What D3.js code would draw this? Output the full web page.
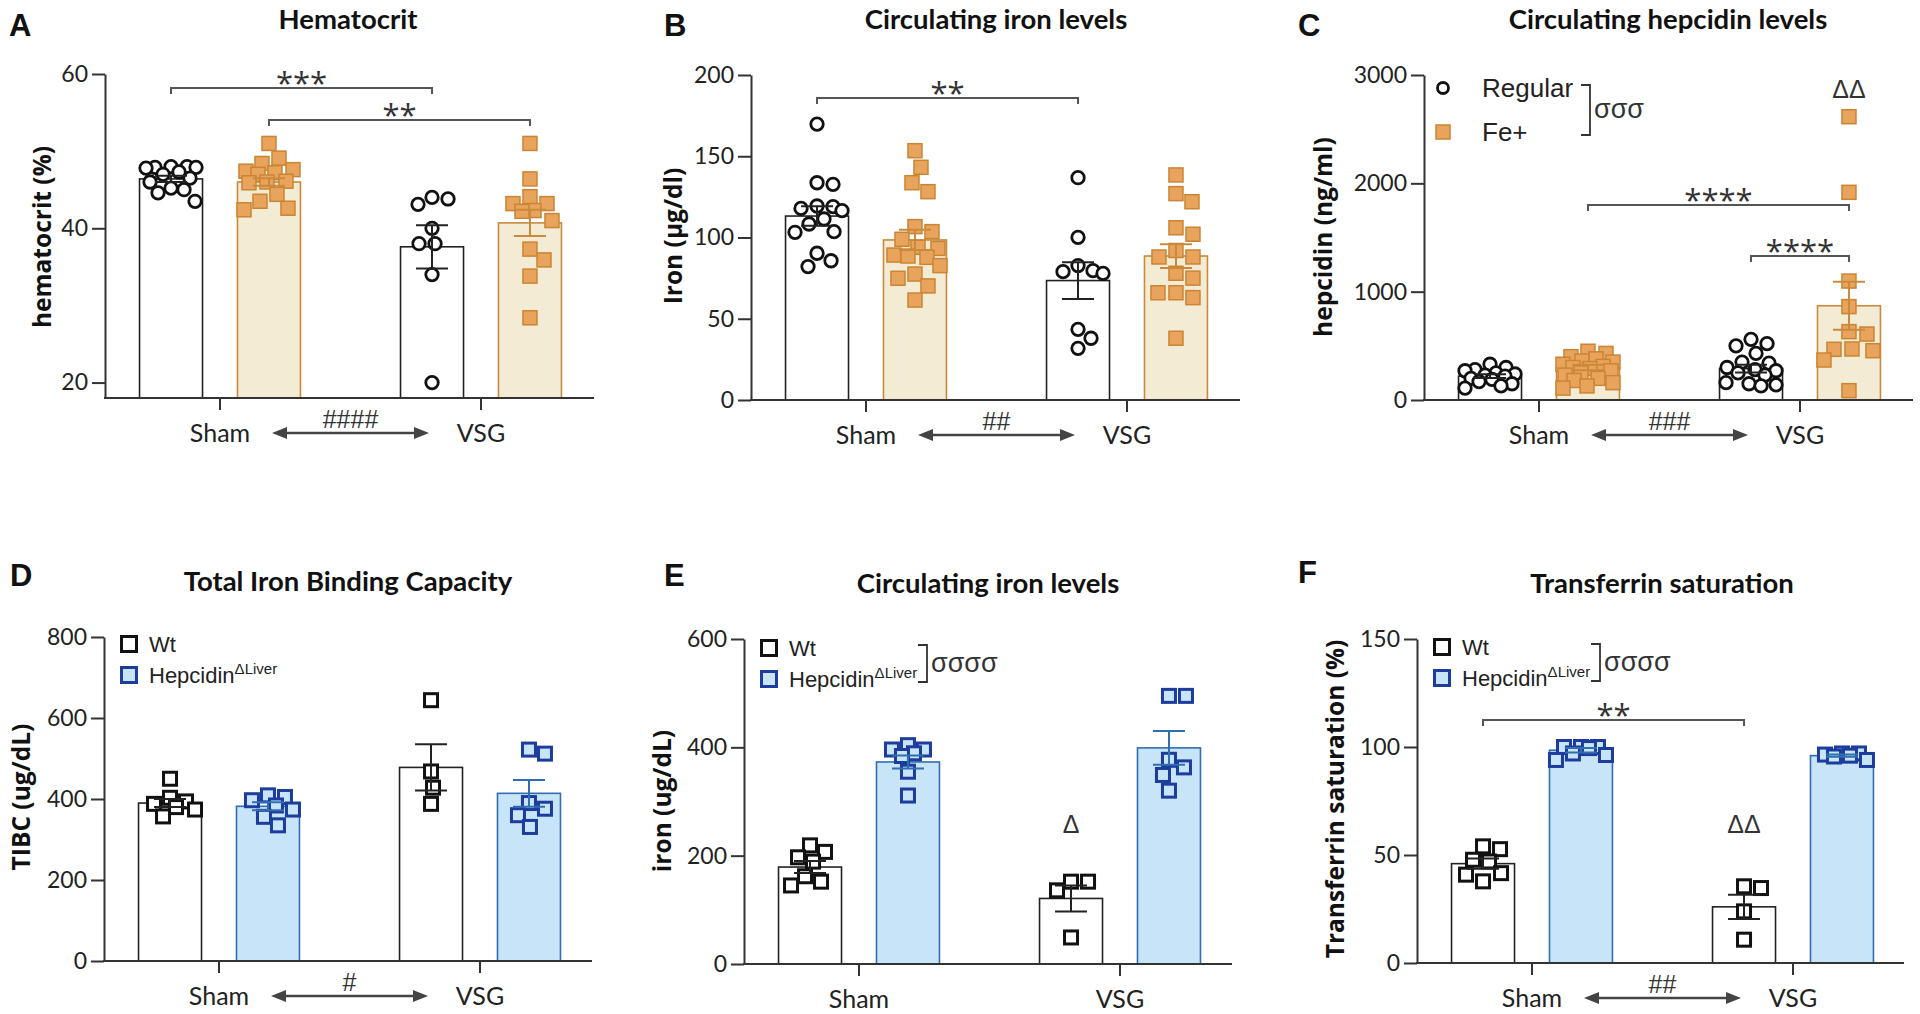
<!DOCTYPE html>
<html lang="en">
<head>
<meta charset="utf-8">
<title>Iron status panels</title>
<script src="https://cdn.jsdelivr.net/npm/d3@7"></script>
<style>
  body { margin: 0; background: #fff; }
  svg text { font-family: Lato, "Open Sans", sans-serif; fill: #222; }
</style>
</head>
<body>
<svg id="fig" width="1920" height="1014"></svg>
<script>

// ---- data ----
var groups = ["Sham", "VSG"];
var dietSeries = ["Regular", "Fe+"];
var geneSeries = ["Wt", "Hepcidin"];

// A  hematocrit (%)
var hctTicks = [20, 40, 60];
var hctShamReg = [48.0, 48.0, 47.9, 47.9, 47.8, 47.3, 47.0, 46.5, 46.0, 45.2, 45.0, 44.6, 43.5];
var hctShamFe = [51.0, 49.1, 48.4, 47.6, 47.4, 47.2, 47.0, 46.1, 46.0, 45.9, 44.4, 43.5, 42.6, 42.4];
var hctVsgReg = [44.0, 43.8, 43.1, 40.0, 38.0, 38.0, 34.0, 20.0];
var hctVsgFe = [51.0, 46.4, 44.1, 43.2, 43.2, 42.3, 42.2, 41.0, 37.3, 35.9, 33.8, 28.4];
var hctMean = [46.4, 46.0, 37.6, 40.7];
var hctSem = [0.4, 0.5, 2.8, 1.7];

// B  iron (ug/dl)
var feTicks = [0, 50, 100, 150, 200];
var feShamReg = [169.8, 133.7, 132.7, 119.4, 119.0, 117.9, 116.5, 111.4, 108.3, 103.6, 103.2, 90.3, 85.7, 82.1];
var feShamFe = [153.4, 143.2, 133.7, 128.2, 106.7, 103.6, 98.9, 94.0, 93.3, 89.2, 88.6, 87.8, 82.7, 77.5, 74.9, 70.2, 61.5];
var feVsgReg = [136.8, 100.1, 82.7, 79.6, 79.0, 77.9, 43.5, 38.0, 31.8];
var feVsgFe = [138.5, 127, 122, 106, 102, 92, 88, 88, 78, 75, 66, 63, 66, 38];
var feMean = [113.2, 98.5, 73.5, 88.6];
var feSem = [6.0, 6.2, 11.3, 7.3];

// C  hepcidin (ng/ml)
var hepTicks = [0, 1000, 2000, 3000];
var hepShamReg = [330, 300, 280, 270, 250, 240, 230, 220, 200, 190, 170, 150, 130, 110];
var hepShamFe = [450, 430, 400, 380, 360, 350, 330, 310, 300, 290, 270, 250, 230, 200, 180, 160, 130, 110];
var hepVsgReg = [560, 520, 500, 430, 350, 340, 300, 280, 270, 250, 230, 160, 150, 140, 130];
var hepVsgFe = [2615, 1917, 1098, 862, 631, 609, 471, 455, 468, 369, 86];
var hepMean = [220, 300, 290, 870];
var hepSem = [18, 25, 35, 222];

// D  TIBC (ug/dL)
var tibcTicks = [0, 200, 400, 600, 800];
var tibcShamWt = [450, 403, 394, 388, 380, 374, 357];
var tibcShamHep = [409, 405, 397, 384, 374, 356, 335];
var tibcVsgWt = [644, 468, 428, 388];
var tibcVsgHep = [522, 512, 390, 376, 360, 331];
var tibcMean = [390, 382, 478, 414];
var tibcSem = [10, 10, 57, 33];

// E  iron (ug/dL)
var ironTicks = [0, 200, 400, 600];
var ironShamWt = [219, 207, 197, 189, 162, 152, 145];
var ironShamHep = [404, 396, 396, 389, 384, 355, 311];
var ironVsgWt = [152, 152, 136, 49];
var ironVsgHep = [495, 495, 377, 363, 349, 320];
var ironMean = [179, 373, 121, 399];
var ironSem = [11, 12, 24, 31];

// F  transferrin saturation (%)
var tsatTicks = [0, 50, 100, 150];
var tsatShamWt = [54, 52.7, 47.8, 47, 41.6, 40.9, 37.8];
var tsatShamHep = [100, 100, 100, 99.5, 97, 96.3, 94];
var tsatVsgWt = [35.5, 34.7, 23.9, 10.8];
var tsatVsgHep = [97, 97, 96.5, 96, 95.6, 94];
var tsatMean = [46, 98.5, 26, 96];
var tsatSem = [2.4, 1.0, 5.6, 0.5];

// ---- look ----
var FONT = "Lato, 'Open Sans', sans-serif";
var ARIAL = "'Liberation Sans', Arial, sans-serif";
var AXIS = "#333";

var looks = {
  "Regular": {shape: "circle", fill: "#fff", stroke: "#111", sw: 2.8, size: 12.5, barFill: "#fff", barStroke: "#222", err: "#222"},
  "Fe+": {shape: "square", fill: "#E8A45C", stroke: "#C98533", sw: 1.5, size: 14, barFill: "#F4EBD4", barStroke: "#C98A3C", err: "#C98A3C"},
  "Wt": {shape: "square", fill: "#fff", stroke: "#111", sw: 3, size: 13, barFill: "#fff", barStroke: "#222", err: "#222"},
  "Hepcidin": {shape: "square", fill: "#C8E4F8", stroke: "#1C3C9E", sw: 3, size: 13, barFill: "#C8E4F8", barStroke: "#2F6FB0", err: "#2F6FB0"}
};

var panels = [
  {letter: "A", lx: 9, ly: 36, title: "Hematocrit", tx: 348, ty: 29,
   ylabel: "hematocrit (%)", yx: 42, yy: 237,
   x0: 105, x1: 594, yTop: 74, yBase: 398, domain: [18, 60], ticks: hctTicks,
   series: dietSeries, points: [hctShamReg, hctShamFe, hctVsgReg, hctVsgFe], mean: hctMean, sem: hctSem,
   sig: [{a: 0, b: 2, v: 58.2, t: "***"}, {a: 1, b: 3, v: 54.05, t: "**"}],
   hash: "####", legend: null},
  {letter: "B", lx: 664, ly: 36, title: "Circulating iron levels", tx: 996, ty: 29,
   ylabel: "Iron (\u00b5g/dl)", yx: 673, yy: 236,
   x0: 751, x1: 1240, yTop: 75, yBase: 400, domain: [0, 200], ticks: feTicks,
   series: dietSeries, points: [feShamReg, feShamFe, feVsgReg, feVsgFe], mean: feMean, sem: feSem,
   sig: [{a: 0, b: 2, v: 185.8, t: "**"}],
   hash: "##", legend: null},
  {letter: "C", lx: 1298, ly: 36, title: "Circulating hepcidin levels", tx: 1668, ty: 29,
   ylabel: "hepcidin (ng/ml)", yx: 1323, yy: 237,
   x0: 1424, x1: 1913, yTop: 75, yBase: 400, domain: [0, 3000], ticks: hepTicks,
   series: dietSeries, points: [hepShamReg, hepShamFe, hepVsgReg, hepVsgFe], mean: hepMean, sem: hepSem,
   sig: [{a: 1, b: 3, v: 1800, t: "****"}, {a: 2, b: 3, v: 1329, t: "****"}],
   delta: {i: 3, v: 2785, t: "\u0394\u0394"},
   hash: "###", legend: {mx: 19, my: 13, gap: 44, tx: 58, font: 26, bracket: 166, sigma: "\u03c3\u03c3\u03c3"}},
  {letter: "D", lx: 10, ly: 586, title: "Total Iron Binding Capacity", tx: 348, ty: 591,
   ylabel: "TIBC (ug/dL)", yx: 21, yy: 797,
   x0: 104, x1: 592, yTop: 637, yBase: 961, domain: [0, 800], ticks: tibcTicks,
   series: geneSeries, points: [tibcShamWt, tibcShamHep, tibcVsgWt, tibcVsgHep], mean: tibcMean, sem: tibcSem,
   sig: [], hash: "#", legend: {mx: 25, my: 7, gap: 31, tx: 45, font: 22, bracket: null}},
  {letter: "E", lx: 664, ly: 586, title: "Circulating iron levels", tx: 988, ty: 593,
   ylabel: "iron (ug/dL)", yx: 662, yy: 801,
   x0: 744, x1: 1232, yTop: 639, yBase: 964, domain: [0, 600], ticks: ironTicks,
   series: geneSeries, points: [ironShamWt, ironShamHep, ironVsgWt, ironVsgHep], mean: ironMean, sem: ironSem,
   sig: [], delta: {i: 2, v: 242, t: "\u0394"},
   hash: null, legend: {mx: 25, my: 9, gap: 31, tx: 45, font: 22, bracket: 183, sigma: "\u03c3\u03c3\u03c3\u03c3"}},
  {letter: "F", lx: 1298, ly: 583, title: "Transferrin saturation", tx: 1662, ty: 593,
   ylabel: "Transferrin saturation (%)", yx: 1335, yy: 799,
   x0: 1417, x1: 1904, yTop: 639, yBase: 963, domain: [0, 150], ticks: tsatTicks,
   series: geneSeries, points: [tsatShamWt, tsatShamHep, tsatVsgWt, tsatVsgHep], mean: tsatMean, sem: tsatSem,
   sig: [{a: 0, b: 2, v: 112.5, t: "**"}], delta: {i: 2, v: 60, t: "\u0394\u0394"},
   hash: "##", legend: {mx: 25, my: 8, gap: 31, tx: 45, font: 22, bracket: 183, sigma: "\u03c3\u03c3\u03c3\u03c3"}}
];

var svg = d3.select("#fig");
svg.append("rect").attr("width", 1920).attr("height", 1014).attr("fill", "#fff");

// simple beeswarm: points of close value are pushed sideways
function swarm(vals, y, half, diam) {
  var pts = vals.map(function(v) { return {v: v, py: y(v)}; })
    .sort(function(a, b) { return a.py - b.py; });
  var placed = [];
  pts.forEach(function(p) {
    var best = 0, bestD = -1, done = false;
    for (var k = 0; k <= half && !done; k++) {
      var offs = k === 0 ? [0] : [k, -k];
      for (var j = 0; j < offs.length; j++) {
        var d = d3.min(placed, function(q) { return Math.hypot(q.dx - offs[j], q.py - p.py); });
        if (d === undefined) d = Infinity;
        if (d >= diam) { best = offs[j]; done = true; break; }
        if (d > bestD) { bestD = d; best = offs[j]; }
      }
    }
    p.dx = best;
    placed.push(p);
  });
  return pts;
}

function marker(sel, look, cx, cy, size) {
  if (look.shape === "circle") {
    sel.append("circle").attr("cx", cx).attr("cy", cy).attr("r", size / 2)
      .attr("fill", look.fill).attr("stroke", look.stroke).attr("stroke-width", look.sw);
  } else {
    sel.append("rect").attr("x", cx - size / 2).attr("y", cy - size / 2)
      .attr("width", size).attr("height", size)
      .attr("fill", look.fill).attr("stroke", look.stroke).attr("stroke-width", look.sw);
  }
}

function drawPanel(p) {
  var g = svg.append("g");
  var y = d3.scaleLinear().domain(p.domain).range([p.yBase, p.yTop]);
  var x = d3.scalePoint().domain(groups).range([p.x0 + 115, p.x0 + 376]);
  var sub = d3.scaleBand().domain([0, 1]).range([-98, 98]).paddingInner(0.357).paddingOuter(0.179);
  var bw = sub.bandwidth();

  var cells = p.mean.map(function(m, i) {
    return {i: i, group: groups[i >> 1], look: looks[p.series[i % 2]], mean: m, sem: p.sem[i],
            pts: p.points[i], cx: x(groups[i >> 1]) + sub(i % 2) + bw / 2};
  });

  // letter + title
  g.append("text").attr("x", p.lx).attr("y", p.ly).text(p.letter)
    .style("font-family", ARIAL).style("font-weight", "bold").style("font-size", "31px").style("fill", "#111");
  g.append("text").attr("x", p.tx).attr("y", p.ty).attr("text-anchor", "middle").text(p.title)
    .style("font-weight", "bold").style("font-size", "27.5px").style("fill", "#111");

  // y label
  g.append("text").attr("transform", "translate(" + p.yx + "," + p.yy + ") rotate(-90)")
    .attr("text-anchor", "middle").attr("dy", "0.35em").text(p.ylabel)
    .style("font-family", "'Open Sans', sans-serif")
    .style("font-weight", "bold").style("font-size", "24.5px").style("fill", "#111");

  // bars
  g.selectAll(".bar").data(cells).enter().append("rect")
    .attr("x", function(d) { return d.cx - bw / 2; })
    .attr("y", function(d) { return y(d.mean); })
    .attr("width", bw)
    .attr("height", function(d) { return p.yBase - y(d.mean); })
    .attr("fill", function(d) { return d.look.barFill; })
    .attr("stroke", function(d) { return d.look.barStroke; })
    .attr("stroke-width", 1.6);

  // points
  cells.forEach(function(c) {
    var sz = c.look.size;
    var sw = swarm(c.pts, y, bw / 2 - 6, sz * 1.25);
    var pg = g.append("g");
    sw.forEach(function(s) { marker(pg, c.look, c.cx + s.dx, s.py, sz); });
  });

  // error bars (mean +/- sem)
  cells.forEach(function(c) {
    var eg = g.append("g").attr("stroke", c.look.err).attr("stroke-width", 2).attr("fill", "none");
    var yt = y(c.mean + c.sem), yb = y(c.mean - c.sem);
    eg.append("line").attr("x1", c.cx).attr("x2", c.cx).attr("y1", yt).attr("y2", yb);
    eg.append("line").attr("x1", c.cx - 16).attr("x2", c.cx + 16).attr("y1", yt).attr("y2", yt);
    eg.append("line").attr("x1", c.cx - 16).attr("x2", c.cx + 16).attr("y1", yb).attr("y2", yb);
  });

  // y axis
  var ya = g.append("g").attr("transform", "translate(" + p.x0 + ",0)")
    .call(d3.axisLeft(y).tickValues(p.ticks).tickSize(13).tickSizeOuter(0).tickPadding(4).tickFormat(d3.format("d")));
  ya.attr("font-family", FONT);
  ya.select(".domain").attr("stroke", AXIS).attr("stroke-width", 2);
  ya.selectAll(".tick line").attr("stroke", AXIS).attr("stroke-width", 2);
  ya.selectAll(".tick text").style("font-size", "23px").style("fill", "#222");

  // x axis
  g.append("line").attr("x1", p.x0 - 1).attr("x2", p.x1).attr("y1", p.yBase).attr("y2", p.yBase)
    .attr("stroke", AXIS).attr("stroke-width", 2);
  groups.forEach(function(gr) {
    g.append("line").attr("x1", x(gr)).attr("x2", x(gr)).attr("y1", p.yBase).attr("y2", p.yBase + 12)
      .attr("stroke", AXIS).attr("stroke-width", 2);
    g.append("text").attr("x", x(gr)).attr("y", p.yBase + 44).attr("text-anchor", "middle").text(gr)
      .style("font-size", "25px");
  });

  // arrow between the surgery groups
  if (p.hash) {
    var xa = x(groups[0]) + 52, xb = x(groups[1]) - 52, ay = p.yBase + 35;
    var ag = g.append("g");
    ag.append("line").attr("x1", xa + 10).attr("x2", xb - 10).attr("y1", ay).attr("y2", ay)
      .attr("stroke", "#444").attr("stroke-width", 2.5);
    ag.append("path").attr("d", "M" + xa + "," + ay + "L" + (xa + 15) + "," + (ay - 6) + "L" + (xa + 15) + "," + (ay + 6) + "Z").attr("fill", "#444");
    ag.append("path").attr("d", "M" + xb + "," + ay + "L" + (xb - 15) + "," + (ay - 6) + "L" + (xb - 15) + "," + (ay + 6) + "Z").attr("fill", "#444");
    ag.append("text").attr("x", (xa + xb) / 2).attr("y", p.yBase + 30).attr("text-anchor", "middle").text(p.hash)
      .style("font-family", ARIAL).style("font-size", "25px").style("fill", "#333");
  }

  // significance brackets
  p.sig.forEach(function(s) {
    var xa = cells[s.a].cx, xb = cells[s.b].cx, sy = y(s.v);
    g.append("path").attr("d", "M" + xa + "," + (sy + 6) + "V" + sy + "H" + xb + "V" + (sy + 6))
      .attr("fill", "none").attr("stroke", "#555").attr("stroke-width", 2);
    g.append("text").attr("x", (xa + xb) / 2).attr("y", sy + 6).attr("text-anchor", "middle").text(s.t)
      .style("font-family", "'Open Sans', sans-serif").style("font-size", "31px").style("fill", "#333");
  });

  if (p.delta) {
    g.append("text").attr("x", cells[p.delta.i].cx).attr("y", y(p.delta.v)).attr("text-anchor", "middle")
      .text(p.delta.t).style("font-family", ARIAL).style("font-size", "25px").style("fill", "#333");
  }

  // legend
  if (p.legend) {
    var L = p.legend;
    p.series.forEach(function(s, k) {
      var look = looks[s];
      var my = p.yTop + L.my + k * L.gap;
      var lg = g.append("g");
      marker(lg, look, p.x0 + L.mx, my, look.shape === "circle" ? 11 : (p.series === geneSeries ? 15 : 14));
      var t = lg.append("text").attr("x", p.x0 + L.tx).attr("y", my).attr("dy", "0.36em")
        .style("font-family", ARIAL).style("font-size", L.font + "px");
      t.append("tspan").text(s);
      if (s === "Hepcidin") {
        t.append("tspan").attr("dy", "-0.6em").style("font-size", "15px").text("\u0394Liver");
      }
    });
    if (L.bracket) {
      var bx = p.x0 + L.bracket, by1 = p.yTop + L.my - 3, by2 = p.yTop + L.my + L.gap + 3;
      g.append("path").attr("d", "M" + (bx - 9) + "," + by1 + "H" + bx + "V" + by2 + "H" + (bx - 9))
        .attr("fill", "none").attr("stroke", "#333").attr("stroke-width", 1.8);
      g.append("text").attr("x", bx + 4).attr("y", (by1 + by2) / 2).attr("dy", "0.3em").text(L.sigma)
        .style("font-family", ARIAL).style("font-size", "27px").style("fill", "#333");
    }
  }
}

panels.forEach(drawPanel);

</script>
</body>
</html>
